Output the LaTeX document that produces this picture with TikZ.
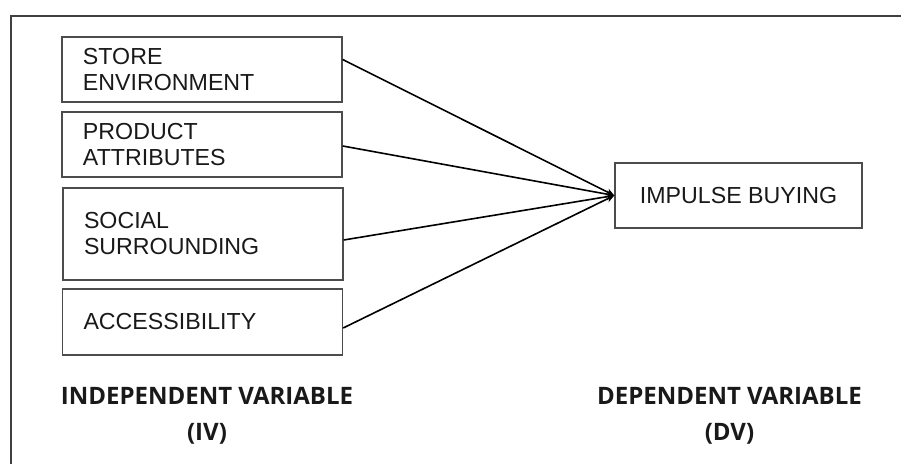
\documentclass[tikz,border=0pt]{standalone}
\usepackage{fontspec}
\setmainfont{Liberation Sans}
\newfontfamily\varfont{Open Sans}
\usetikzlibrary{arrows.meta}

\begin{document}
\begin{tikzpicture}[x=0.5pt,y=-0.5pt,>={Stealth[length=4pt,width=3.5pt]},
  factor/.style={draw=black!70,line width=0.7pt,inner xsep=10.5pt,text width=119pt,
    align=left,minimum height=32.5pt,text=black!90,font=\fontsize{11.6}{13}\selectfont},
  outcome/.style={draw=black!70,line width=0.7pt,minimum width=123.5pt,minimum height=32.5pt,
    text=black!90,font=\fontsize{11.6}{13}\selectfont},
  vartype/.style={align=center,text=black!90,font=\varfont\bfseries\fontsize{12}{18}\selectfont},
  link/.style={->,line width=0.8pt}]
\useasboundingbox (0,0) rectangle (901,464);
\clip (0,0) rectangle (901,464);
\draw[black!75,line width=1pt] (11,16) rectangle (950,500);
\node[factor] (store) at (202,69.5) {STORE\\ENVIRONMENT};
\node[factor] (product) at (202,144.5) {PRODUCT\\ATTRIBUTES};
\node[factor,minimum height=46pt] (social) at (203,234) {SOCIAL\\SURROUNDING};
\node[factor,minimum height=33pt] (access) at (202.5,322) {ACCESSIBILITY};
\node[outcome] (impulse) at (738.5,195.5) {IMPULSE BUYING};
\draw[link] ([yshift=5pt]store.east) -- (impulse.west);
\draw[link] ([yshift=-0.75pt]product.east) -- (impulse.west);
\draw[link] ([yshift=-3pt]social.east) -- (impulse.west);
\draw[link] ([yshift=-3pt]access.east) -- (impulse.west);
\node[vartype] (iv) at (207,416) {INDEPENDENT VARIABLE\\(IV)};
\node[vartype] (dv) at (729.5,416) {DEPENDENT VARIABLE\\(DV)};
\end{tikzpicture}
\end{document}
